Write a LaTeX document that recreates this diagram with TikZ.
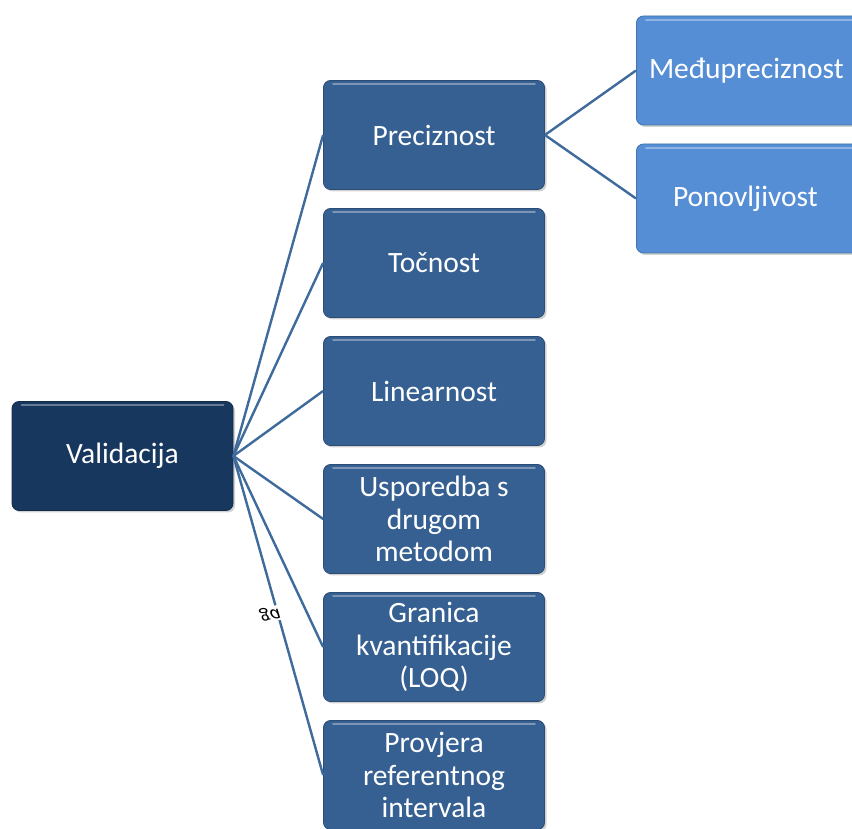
\documentclass[tikz,border=0pt]{standalone}
\usepackage{fontspec}
\setmainfont{Carlito}
\usetikzlibrary{shadows}
\definecolor{rootc}{HTML}{17375E}
\definecolor{midc}{HTML}{366092}
\definecolor{leafc}{HTML}{558ED5}
\definecolor{linec}{HTML}{3E6A9C}
\tikzset{
  box/.style={rounded corners=7pt, minimum width=221pt, minimum height=109pt,
    text=white, align=center, font=\fontsize{29.5}{32.5}\selectfont,
    draw=#1!80!black, line width=0.8pt, fill=#1,
    drop shadow={shadow xshift=2pt, shadow yshift=-2pt, opacity=0.35}},
  conn/.style={draw=linec, line width=2.4pt},
}
\begin{document}
\begin{tikzpicture}[x=1pt,y=1pt]
\clip (0,0) rectangle (852,828);
\fill[white] (0,0) rectangle (852,828);
% root
\node[box=rootc] (val) at (122.5,372) {Validacija};
% middle column
\node[box=midc] (pre) at (434,693) {Preciznost};
\node[box=midc] (toc) at (434,565) {Točnost};
\node[box=midc] (lin) at (434,437) {Linearnost};
\node[box=midc] (usp) at (434,309) {Usporedba s\\drugom\\metodom};
\node[box=midc] (gra) at (434,181) {Granica\\kvantifikacije\\(LOQ)};
\node[box=midc] (pro) at (434,53) {Provjera\\referentnog\\intervala};
% right column
\node[box=leafc, minimum width=230pt, anchor=west] (med) at (636,757.5) {\hspace*{-10pt}Međupreciznost};
\node[box=leafc, minimum width=230pt, anchor=west] (pon) at (636,629.5) {\hspace*{-12pt}Ponovljivost};
% connectors
\foreach \t in {pre,toc,lin,usp,gra,pro}
  \draw[conn] (val.east) -- (\t.west);
\draw[conn] (pre.east) -- (med.west);
\draw[conn] (pre.east) -- (pon.west);
% stray label
\node[fill=white, inner sep=1pt, font=\fontsize{20}{20}\selectfont, rotate=10] (ga) at (270,214) {\scalebox{1}[-1]{\itshape ga}};
% highlights
\foreach \t in {val,pre,toc,lin,usp,gra,pro,med,pon}
  \draw[white, opacity=0.35, line width=2pt, line cap=round]
    ([xshift=10pt,yshift=-4pt]\t.north west) -- ([xshift=-10pt,yshift=-4pt]\t.north east);
\end{tikzpicture}
\end{document}
